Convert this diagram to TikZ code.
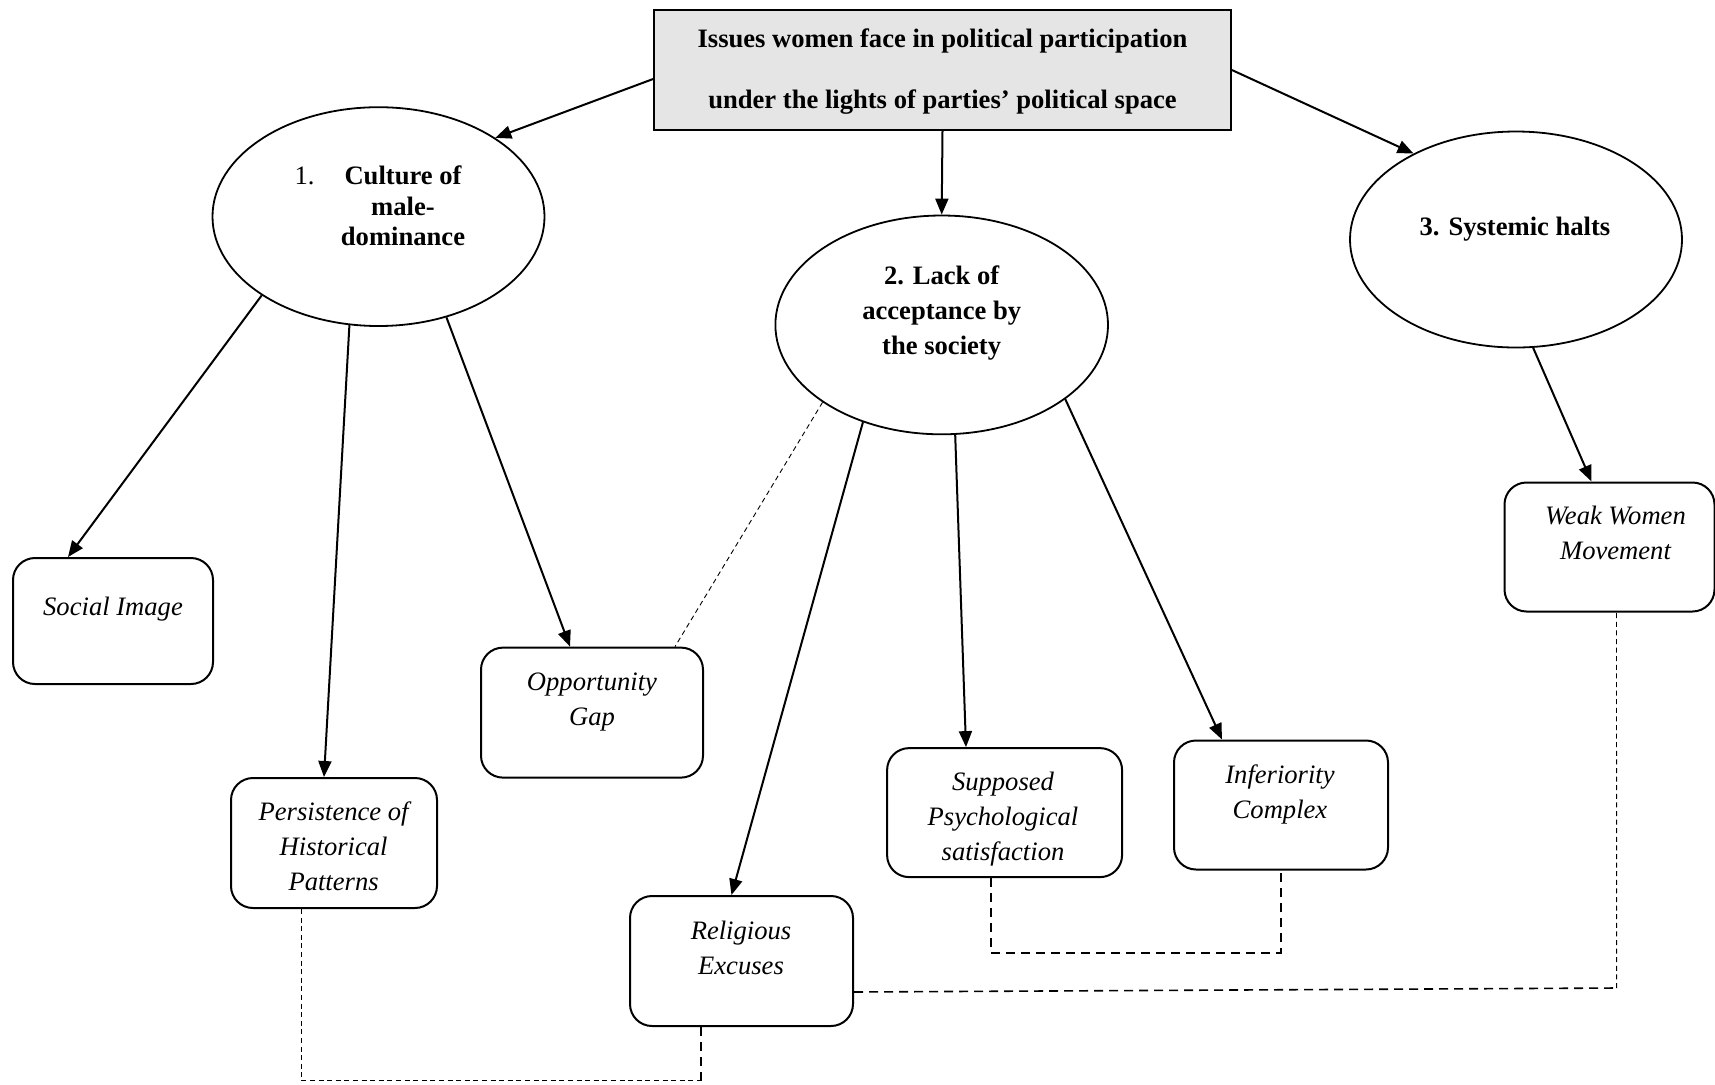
\documentclass[tikz,border=0pt]{standalone}
\usepackage{fontspec}
\setmainfont{Liberation Serif}
\usetikzlibrary{arrows.meta,shapes.geometric}
\begin{document}
\begin{tikzpicture}[x=0.5pt,y=-0.5pt,
  issue/.style={draw,line width=0.9pt,ellipse,inner sep=0pt},
  factor/.style={draw,line width=1pt,rounded corners=11pt,inner sep=0pt},
  lbl/.style={align=center,font=\fontsize{13.3}{17.5}\selectfont\itshape},
  hlbl/.style={align=center,font=\fontsize{13.3}{17.5}\selectfont\bfseries},
  link/.style={line width=1pt,-{Triangle[length=8pt,width=6.5pt]}},
  tie/.style={line width=0.45pt,dash pattern=on 2.5pt off 1.8pt},
  tiebold/.style={line width=0.8pt,dash pattern=on 4.5pt off 3pt}]
\useasboundingbox (0,0) rectangle (1715,1084);
\node[draw,line width=0.9pt,fill=black!10,minimum width=288.5pt,minimum height=60pt] (t) at (942.5,70) {};
\node[hlbl,font=\fontsize{13.3}{30.5}\selectfont\bfseries] (ttxt) at (942.5,71.5)
  {Issues women face in political participation\\under the lights of parties' political space};
\node[issue,minimum width=166pt,minimum height=109.4pt] (e1) at (378.5,216.6) {};
\node[hlbl,font=\fontsize{13.3}{15.3}\selectfont\bfseries] (e1txt) at (403,206)
  {\llap{\mdseries 1.\hspace{15pt}}Culture of\\male-\\dominance};
\node[issue,minimum width=166.3pt,minimum height=109.4pt] (e2) at (941.7,324.9) {};
\node[hlbl] (e2txt) at (941.7,312.8) {2. Lack of\\acceptance by\\the society};
\node[issue,minimum width=166pt,minimum height=108pt] (e3) at (1516,239.5) {};
\node[hlbl] (e3txt) at (1515,229.6) {3. Systemic halts};
\node[factor,minimum width=100pt,minimum height=63pt] (simg) at (113,621) {};
\node[lbl] (simgtxt) at (113,609) {Social Image};
\node[factor,minimum width=103pt,minimum height=65pt] (pers) at (334,843) {};
\node[lbl] (perstxt) at (333.6,846.6) {Persistence of\\Historical\\Patterns};
\node[factor,minimum width=111pt,minimum height=65pt] (opp) at (592,712.6) {};
\node[lbl] (opptxt) at (592,702.2) {Opportunity\\Gap};
\node[factor,minimum width=111.5pt,minimum height=65pt] (rel) at (741.5,961) {};
\node[lbl] (reltxt) at (741,948) {Religious\\Excuses};
\node[factor,minimum width=117.5pt,minimum height=64.5pt] (sup) at (1004.6,812.6) {};
\node[lbl] (suptxt) at (1003,819.2) {Supposed\\Psychological\\satisfaction};
\node[factor,minimum width=107pt,minimum height=64.5pt] (inf) at (1281,805) {};
\node[lbl] (inftxt) at (1280,794.2) {Inferiority\\Complex};
\node[factor,minimum width=105pt,minimum height=64.5pt] (weak) at (1609.5,547) {};
\node[lbl] (weaktxt) at (1615.5,533) {Weak Women\\Movement};
\draw[link] ([yshift=-4.5pt]t.west) -- (e1.34);
\draw[link] (t.south) -- (e2.north);
\draw[link] (t.east) -- (e3.140);
\draw[link] (e1.214) -- ([xshift=28pt]simg.north west);
\draw[link] (e1.255) -- ([xshift=-5pt]pers.north);
\draw[link] (e1.304) -- ([xshift=-11pt]opp.north);
\draw[link] (e2.231) -- ([xshift=-5pt]rel.north);
\draw[link] (e2.277.5) -- ([xshift=-19.3pt]sup.north);
\draw[link] (e2.329.6) -- ([xshift=-29.5pt]inf.north);
\draw[link] (e3.279) -- ([xshift=-9pt]weak.north);
\draw[tie] (e2.213) -- ([xshift=41.5pt]opp.north);
\coordinate (pr) at (701,1080.7);
\draw[tie] ([xshift=-16.5pt]pers.south) |- (pr);
\draw[tiebold] (pr) -- ([xshift=-20.25pt]rel.south);
\draw[tiebold] ([xshift=-6.8pt]sup.south) -- ++(0,74.6) -| (inf.south);
\coordinate (rw) at (1616.6,988);
\draw[tiebold] ([yshift=-15.5pt]rel.east) -- (rw);
\draw[tie] (rw) -- ([xshift=3.5pt]weak.south);
\end{tikzpicture}
\end{document}
